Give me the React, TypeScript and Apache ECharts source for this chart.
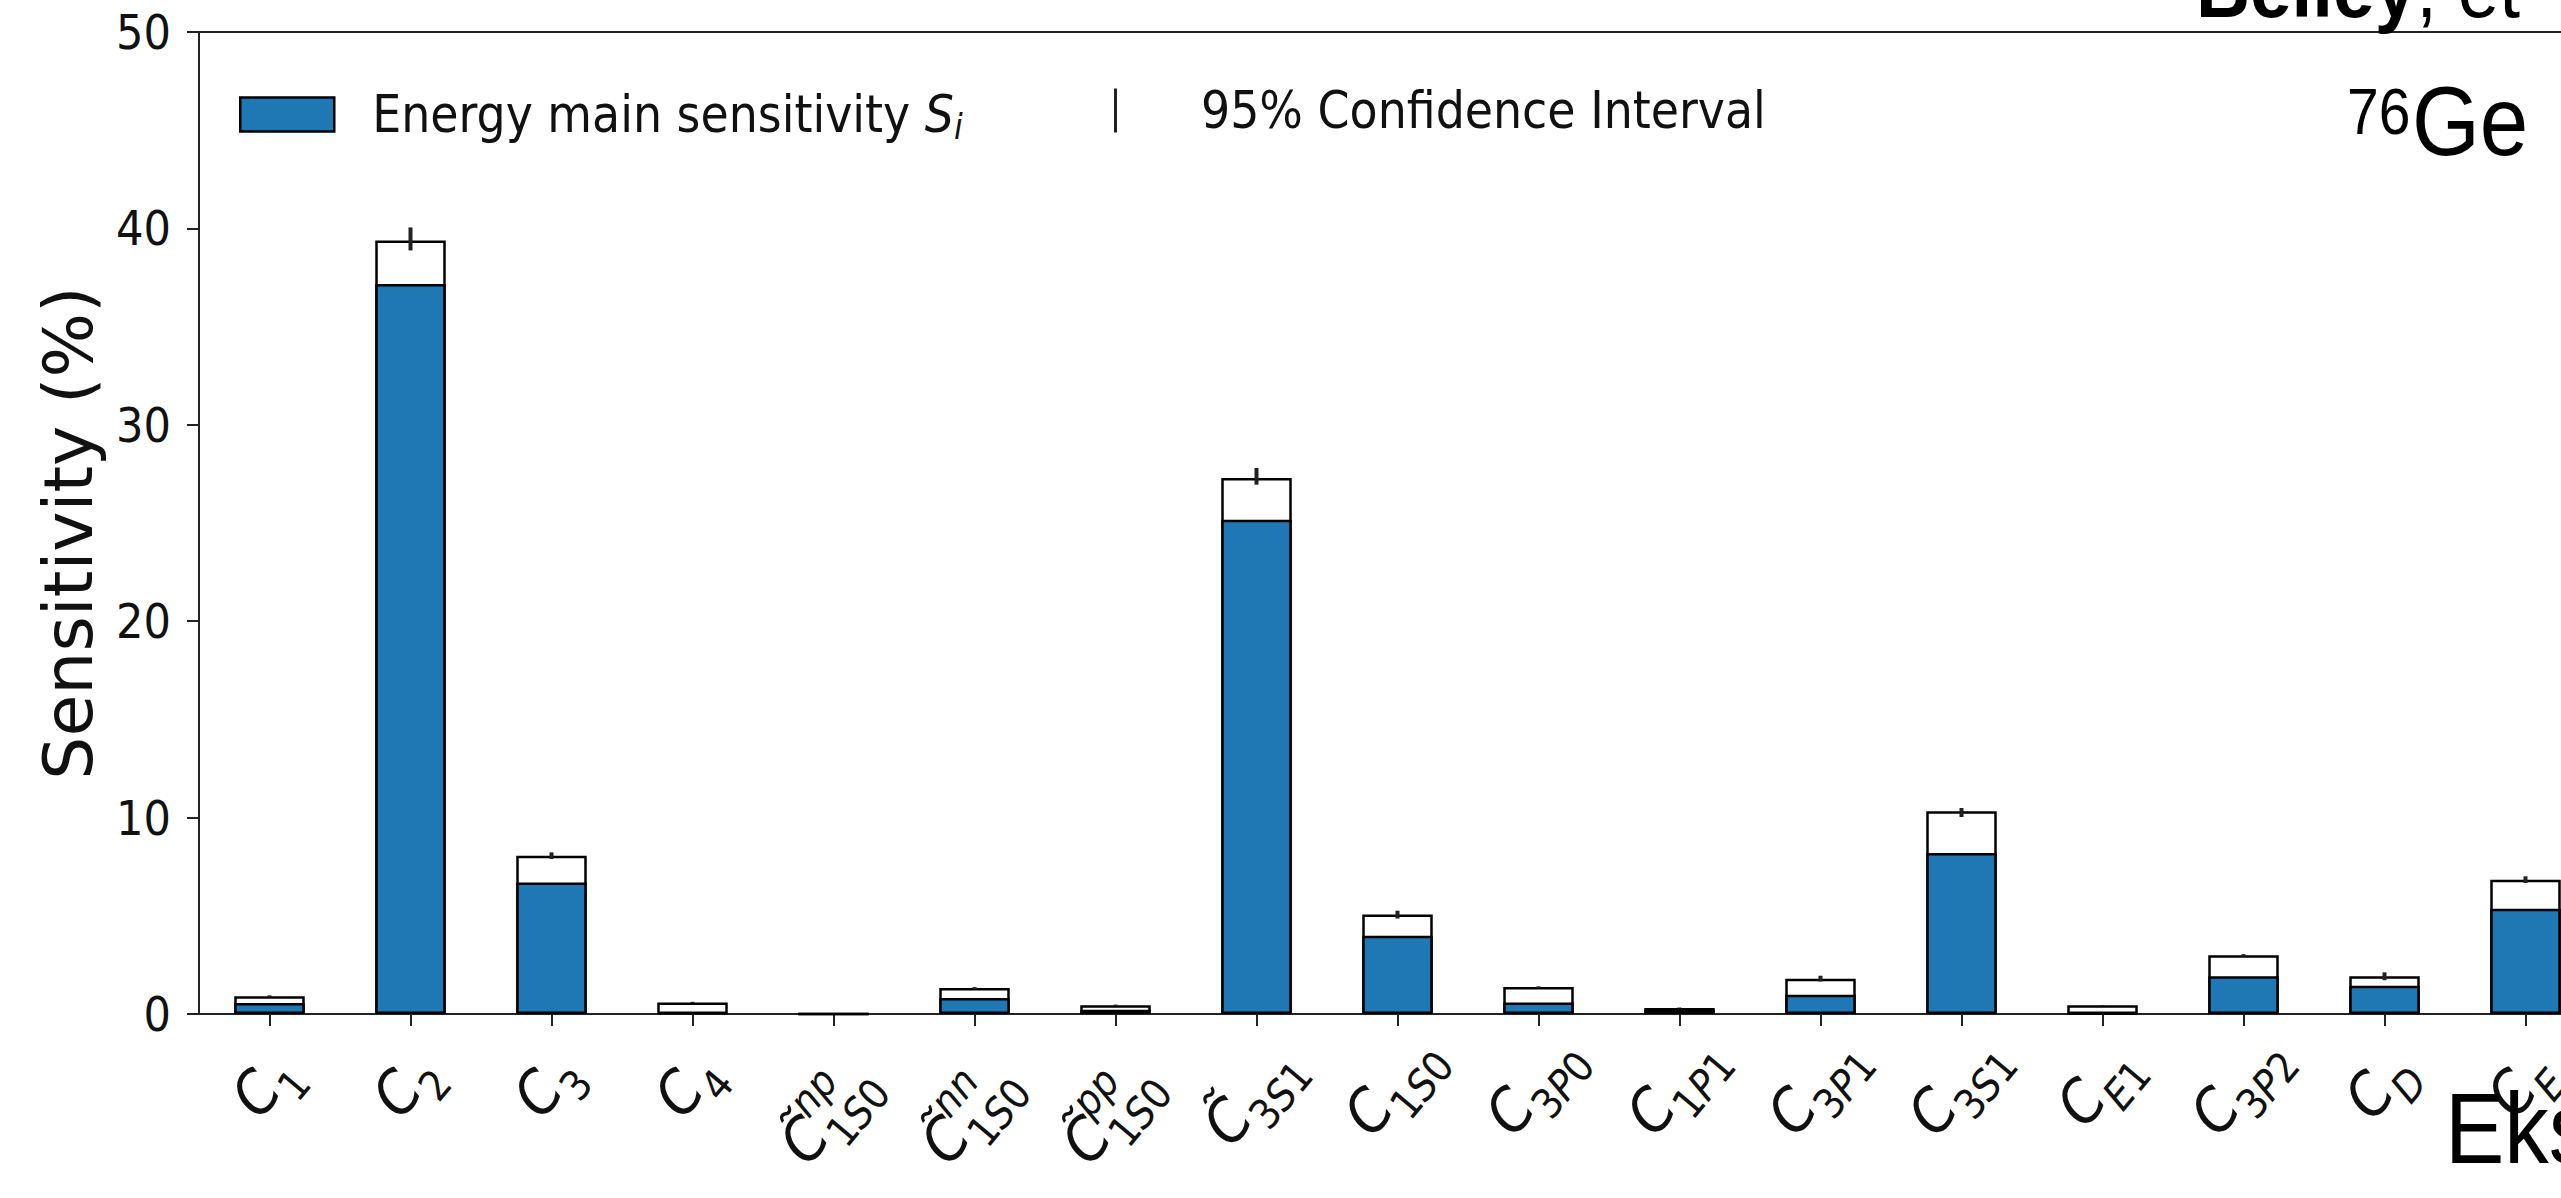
import React, { useEffect, useRef } from 'react';
import * as echarts from 'echarts';

// ---- data ----
const categoryBase = ['C', 'C', 'C', 'C', 'C\u0303', 'C\u0303', 'C\u0303', 'C\u0303', 'C', 'C', 'C', 'C', 'C', 'C', 'C', 'C', 'C'];
const categorySup = ['', '', '', '', 'np', 'nn', 'pp', '', '', '', '', '', '', '', '', '', ''];
const categorySub = ['1', '2', '3', '4', '1S0', '1S0', '1S0', '3S1', '1S0', '3P0', '1P1', '3P1', '3S1', 'E1', '3P2', 'D', 'E'];
const categories = [...categoryBase.map((b, i) => b + categorySup[i] + categorySub[i]), ''];

const mainSensitivity = [0.56, 37.17, 6.7, 0.08, 0, 0.81, 0.22, 25.16, 3.99, 0.59, 0.22, 0.98, 8.2, 0.02, 1.92, 1.44, 5.36];
const totalSensitivity = [0.9, 39.39, 8.06, 0.59, 0, 1.32, 0.45, 27.29, 5.06, 1.37, 0.31, 1.8, 10.32, 0.44, 2.99, 1.92, 6.84];
const ciLow = [0.85, 38.88, 7.89, 0.56, 0, 1.27, 0.42, 26.95, 4.86, 1.33, 0.29, 1.65, 10.03, 0.42, 2.93, 1.72, 6.67];
const ciHigh = [0.95, 40.05, 8.23, 0.62, 0, 1.37, 0.48, 27.8, 5.26, 1.41, 0.33, 1.95, 10.49, 0.46, 3.05, 2.12, 7.01];

const yMin = 0;
const yMax = 50;
const yStep = 10;

const mainName = 'Energy main sensitivity S_i';
const ciName = '95% Confidence Interval';

const PLOT_FONT = "'DejaVu Sans Condensed', 'DejaVu Sans', sans-serif";
const LABEL_FONT = "'DejaVu Sans', sans-serif";
const SLIDE_FONT = "'Liberation Sans', Arial, sans-serif";
const BLUE = '#1f77b4';
const INK = '#111';

function richLabel(i: number): string {
  let s = `{c|${categoryBase[i]}}`;
  if (categorySup[i]) s += `{p|${categorySup[i]}}`;
  for (const ch of categorySub[i]) {
    s += /[0-9]/.test(ch) ? `{d|${ch}}` : `{l|${ch}}`;
  }
  return s;
}

const labelRich = {
  c: { fontFamily: PLOT_FONT, fontSize: 60, fontStyle: 'italic', fill: INK, lineHeight: 90, verticalAlign: 'middle', align: 'left' },
  p: { fontFamily: PLOT_FONT, fontSize: 42, fontStyle: 'italic', fill: INK, lineHeight: 40, verticalAlign: 'top', width: 1, align: 'left' },
  d: { fontFamily: PLOT_FONT, fontSize: 42, fill: INK, lineHeight: 74, verticalAlign: 'bottom', align: 'left' },
  l: { fontFamily: PLOT_FONT, fontSize: 42, fontStyle: 'italic', fill: INK, lineHeight: 74, verticalAlign: 'bottom', align: 'left' },
};

export default function App() {
  const ref = useRef<HTMLDivElement>(null);

  useEffect(() => {
    if (!ref.current) return;
    const chart = echarts.init(ref.current, null, { renderer: 'svg' });

    const option: any = {
      animation: false,
      backgroundColor: '#fff',
      grid: {
        left: 199,
        top: 32,
        width: 141 * categories.length,
        height: 982,
        show: true,
        borderColor: '#222',
        borderWidth: 2,
        backgroundColor: 'transparent',
        containLabel: false,
      },
      legend: [
        {
          left: 234,
          top: 84,
          itemWidth: 94,
          itemHeight: 34,
          selectedMode: false,
          data: [
            {
              name: mainName,
              icon: 'rect',
              itemStyle: { color: BLUE, borderColor: '#000', borderWidth: 2.5 },
            },
          ],
          formatter: () => '{g|}{t|Energy main sensitivity }{s|S}{i|i}',
          textStyle: {
            fontFamily: PLOT_FONT,
            fontSize: 51,
            color: INK,
            rich: {
              g: { width: 33 },
              t: { fontFamily: PLOT_FONT, fontSize: 51, color: INK },
              s: { fontFamily: PLOT_FONT, fontSize: 51, fontStyle: 'italic', color: INK, lineHeight: 60, verticalAlign: 'middle' },
              i: { fontFamily: PLOT_FONT, fontSize: 35, fontStyle: 'italic', color: INK, lineHeight: 24, verticalAlign: 'bottom' },
            },
          },
        },
        {
          left: 1063,
          top: 80,
          itemWidth: 95,
          itemHeight: 44,
          selectedMode: false,
          data: [
            {
              name: ciName,
              icon: 'path://M0,0h0.01v0.01h-0.01zM46,0h3v44h-3zM94.99,43.99h0.01v0.01h-0.01z',
              itemStyle: { color: '#222', borderWidth: 0 },
            },
          ],
          formatter: (n: string) => `{g|}{t|${n}}`,
          textStyle: {
            fontFamily: PLOT_FONT,
            fontSize: 51,
            color: INK,
            rich: {
              g: { width: 33 },
              t: { fontFamily: PLOT_FONT, fontSize: 51, color: INK },
            },
          },
        },
      ],
      xAxis: {
        type: 'category',
        data: categories,
        boundaryGap: true,
        axisLine: { show: true, lineStyle: { color: '#222', width: 2 } },
        axisTick: { show: true, alignWithLabel: true, length: 12, lineStyle: { color: '#222', width: 2 } },
        splitLine: { show: false },
        axisLabel: { show: false },
      },
      yAxis: {
        type: 'value',
        min: yMin,
        max: yMax,
        interval: yStep,
        name: 'Sensitivity (%)',
        nameLocation: 'middle',
        nameGap: 97,
        nameTextStyle: { fontFamily: LABEL_FONT, fontSize: 68, color: INK, padding: [0, 20, 0, 0] },
        axisLine: { show: true, lineStyle: { color: '#222', width: 2 } },
        axisTick: { show: true, length: 12, lineStyle: { color: '#222', width: 2 } },
        splitLine: { show: false },
        axisLabel: { fontFamily: PLOT_FONT, fontSize: 48, color: INK, margin: 28 },
      },
      series: [
        {
          name: 'Total sensitivity',
          type: 'bar',
          data: totalSensitivity,
          barWidth: '50%',
          itemStyle: { color: '#fff', borderColor: '#000', borderWidth: 2.5 },
          z: 2,
        },
        {
          name: mainName,
          type: 'bar',
          data: mainSensitivity,
          barWidth: '50%',
          barGap: '-100%',
          itemStyle: { color: BLUE, borderColor: '#000', borderWidth: 2.5 },
          z: 3,
        },
        {
          name: ciName,
          type: 'custom',
          z: 4,
          data: ciLow.map((lo, i) => [i, lo, ciHigh[i]]),
          encode: { x: 0, y: [1, 2] },
          itemStyle: { color: '#222' },
          renderItem: (_params: any, api: any) => {
            const x = api.value(0);
            const lo = api.coord([x, api.value(1)]);
            const hi = api.coord([x, api.value(2)]);
            return {
              type: 'line',
              shape: { x1: lo[0], y1: lo[1], x2: hi[0], y2: hi[1] },
              style: { stroke: '#222', lineWidth: 4 },
            };
          },
        },
        {
          // rotated category tick labels, placed on the category axis
          name: 'tick labels',
          type: 'custom',
          z: 5,
          silent: true,
          clip: false,
          data: categoryBase.map((_b, i) => [i, 0]),
          encode: { x: 0, y: 1 },
          renderItem: (_params: any, api: any) => {
            const i = api.value(0);
            const p = api.coord([i, 0]);
            const hasSup = categorySup[i] !== '';
            const hasTilde = categoryBase[i] !== 'C';
            const dy = hasSup ? 98 : hasTilde ? 80 : 70;
            return {
              type: 'text',
              x: p[0] - 6,
              y: p[1] + dy,
              rotation: (50 * Math.PI) / 180,
              style: {
                text: richLabel(i),
                rich: labelRich,
                align: 'center',
                verticalAlign: 'middle',
                fill: INK,
                fontFamily: PLOT_FONT,
                fontSize: 60,
              },
            };
          },
        },
      ],
      graphic: [
        {
          type: 'text',
          x: 2196,
          y: -54,
          scaleX: 0.89,
          z: 100,
          style: {
            text: '{b|Belley}{r|, et}',
            verticalAlign: 'top',
            fill: '#000',
            rich: {
              b: { fontFamily: SLIDE_FONT, fontSize: 84, fontWeight: 'bold', fill: '#000' },
              r: { fontFamily: SLIDE_FONT, fontSize: 84, fill: '#000' },
            },
          },
        },
        {
          type: 'text',
          x: 2347,
          y: 80,
          scaleX: 0.89,
          z: 100,
          style: { text: '76', fontFamily: SLIDE_FONT, fontSize: 64, fill: '#000', verticalAlign: 'top' },
        },
        {
          type: 'text',
          x: 2412,
          y: 72,
          scaleX: 0.89,
          z: 100,
          style: { text: 'Ge', fontFamily: SLIDE_FONT, fontSize: 98, fill: '#000', verticalAlign: 'top' },
        },
        {
          type: 'text',
          x: 2445,
          y: 1078,
          scaleX: 0.89,
          z: 100,
          style: { text: 'Eks', fontFamily: SLIDE_FONT, fontSize: 100, fill: '#000', verticalAlign: 'top' },
        },
      ],
    };

    chart.setOption(option);
    return () => chart.dispose();
  }, []);

  return (
    <div style={{ position: 'fixed', left: 0, top: 0, width: 2561, height: 1198, overflow: 'hidden', background: '#fff' }}>
      <div ref={ref} style={{ position: 'absolute', left: 0, top: 0, width: 2800, height: 1198 }} />
    </div>
  );
}
